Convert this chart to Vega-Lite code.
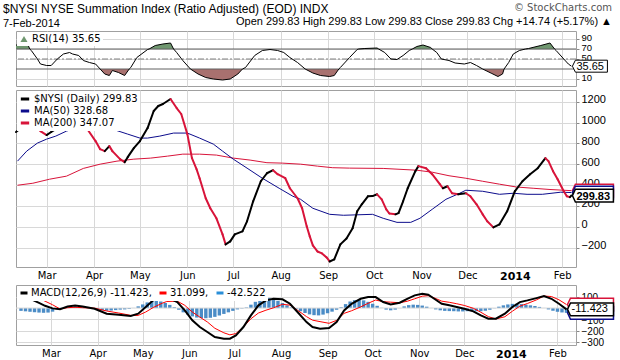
{
  "$schema": "https://vega.github.io/schema/vega-lite/v6.json",
  "background": "white",
  "padding": {"left": 3, "top": 2, "right": 0, "bottom": 0},
  "spacing": 2,
  "title": {
    "text": "$NYSI NYSE Summation Index (Ratio Adjusted) (EOD) INDX",
    "subtitle": "7-Feb-2014",
    "anchor": "start",
    "frame": "group",
    "font": "Liberation Sans",
    "fontSize": 12,
    "fontWeight": "normal",
    "color": "#000000",
    "subtitleFont": "Liberation Sans",
    "subtitleFontSize": 11,
    "subtitleColor": "#000000",
    "subtitlePadding": 2,
    "offset": -27,
    "dx": -13
  },
  "resolve": {"scale": {"color": "independent"}, "legend": {"color": "independent"}},
  "config": {
    "view": {"stroke": "#a0a0a0", "strokeWidth": 1},
    "axis": {"labelFont": "Liberation Sans", "labelFontSize": 11, "labelColor": "#000000", "gridColor": "#d8d8d8", "domain": false, "tickColor": "#888888", "tickSize": 3, "title": null, "labelOverlap": false, "labelSeparation": 0}
  },
  "datasets": {
    "price": [
      {"d":"2013-02-09","v":909},{"d":"2013-02-13","v":957},{"d":"2013-02-17","v":995},{"d":"2013-02-21","v":995},{"d":"2013-02-25","v":918},
      {"d":"2013-03-01","v":880},{"d":"2013-03-04","v":909},{"d":"2013-03-08","v":947},{"d":"2013-03-12","v":1005},{"d":"2013-03-16","v":1024},
      {"d":"2013-03-22","v":957},{"d":"2013-03-28","v":928},{"d":"2013-04-02","v":822},{"d":"2013-04-05","v":745},{"d":"2013-04-08","v":726},
      {"d":"2013-04-11","v":774},{"d":"2013-04-13","v":726},{"d":"2013-04-18","v":649},{"d":"2013-04-21","v":620},{"d":"2013-04-23","v":668},
      {"d":"2013-04-27","v":755},{"d":"2013-05-01","v":822},{"d":"2013-05-06","v":947},{"d":"2013-05-10","v":1111},{"d":"2013-05-13","v":1159},
      {"d":"2013-05-16","v":1178},{"d":"2013-05-21","v":1226},{"d":"2013-05-25","v":1139},{"d":"2013-05-28","v":1082},{"d":"2013-06-01","v":889},
      {"d":"2013-06-04","v":659},{"d":"2013-06-07","v":553},{"d":"2013-06-09","v":466},{"d":"2013-06-13","v":274},{"d":"2013-06-16","v":178},
      {"d":"2013-06-20","v":82},{"d":"2013-06-24","v":-72},{"d":"2013-06-26","v":-168},{"d":"2013-06-29","v":-139},{"d":"2013-07-02","v":-72},
      {"d":"2013-07-07","v":-43},{"d":"2013-07-10","v":53},{"d":"2013-07-14","v":245},{"d":"2013-07-19","v":437},{"d":"2013-07-23","v":514},
      {"d":"2013-07-27","v":543},{"d":"2013-07-30","v":505},{"d":"2013-08-04","v":466},{"d":"2013-08-07","v":370},{"d":"2013-08-12","v":274},
      {"d":"2013-08-15","v":178},{"d":"2013-08-18","v":5},{"d":"2013-08-20","v":-91},{"d":"2013-08-22","v":-178},{"d":"2013-08-25","v":-236},
      {"d":"2013-08-28","v":-255},{"d":"2013-08-31","v":-293},{"d":"2013-09-02","v":-332},{"d":"2013-09-05","v":-312},{"d":"2013-09-09","v":-168},
      {"d":"2013-09-13","v":-111},{"d":"2013-09-17","v":-14},{"d":"2013-09-20","v":149},{"d":"2013-09-23","v":216},{"d":"2013-09-27","v":293},
      {"d":"2013-09-30","v":295},{"d":"2013-10-03","v":312},{"d":"2013-10-06","v":264},{"d":"2013-10-09","v":168},{"d":"2013-10-11","v":128},
      {"d":"2013-10-15","v":120},{"d":"2013-10-17","v":132},{"d":"2013-10-20","v":245},{"d":"2013-10-23","v":370},{"d":"2013-10-28","v":534},
      {"d":"2013-10-30","v":582},{"d":"2013-11-04","v":562},{"d":"2013-11-08","v":505},{"d":"2013-11-13","v":409},{"d":"2013-11-15","v":370},
      {"d":"2013-11-18","v":389},{"d":"2013-11-21","v":322},{"d":"2013-11-25","v":312},{"d":"2013-11-30","v":322},{"d":"2013-12-03","v":293},
      {"d":"2013-12-07","v":216},{"d":"2013-12-11","v":120},{"d":"2013-12-14","v":53},{"d":"2013-12-18","v":-5},{"d":"2013-12-22","v":24},
      {"d":"2013-12-27","v":149},{"d":"2014-01-01","v":341},{"d":"2014-01-06","v":437},{"d":"2014-01-11","v":505},{"d":"2014-01-16","v":562},
      {"d":"2014-01-21","v":659},{"d":"2014-01-23","v":630},{"d":"2014-01-26","v":534},{"d":"2014-01-29","v":457},{"d":"2014-02-02","v":341},
      {"d":"2014-02-04","v":293},{"d":"2014-02-06","v":285.09},{"d":"2014-02-07","v":299.83}
    ],
    "ma50": [
      {"d":"2013-02-10","v":630},{"d":"2013-02-16","v":726},{"d":"2013-02-23","v":803},{"d":"2013-03-01","v":841},{"d":"2013-03-07","v":870},
      {"d":"2013-03-14","v":918},{"d":"2013-03-21","v":950},{"d":"2013-03-28","v":965},{"d":"2013-04-05","v":962},{"d":"2013-04-13","v":937},
      {"d":"2013-04-23","v":889},{"d":"2013-05-01","v":851},{"d":"2013-05-06","v":851},{"d":"2013-05-14","v":870},{"d":"2013-05-23","v":899},
      {"d":"2013-06-01","v":899},{"d":"2013-06-09","v":851},{"d":"2013-06-18","v":793},{"d":"2013-06-24","v":726},{"d":"2013-07-01","v":649},
      {"d":"2013-07-10","v":563},{"d":"2013-07-20","v":466},{"d":"2013-07-31","v":370},{"d":"2013-08-09","v":293},{"d":"2013-08-14","v":264},
      {"d":"2013-08-22","v":178},{"d":"2013-09-02","v":120},{"d":"2013-09-11","v":111},{"d":"2013-09-30","v":120},{"d":"2013-10-07","v":82},
      {"d":"2013-10-16","v":43},{"d":"2013-10-25","v":43},{"d":"2013-10-31","v":82},{"d":"2013-11-08","v":168},{"d":"2013-11-17","v":264},
      {"d":"2013-11-26","v":322},{"d":"2013-11-30","v":351},{"d":"2013-12-11","v":341},{"d":"2013-12-22","v":312},{"d":"2013-12-31","v":322},
      {"d":"2014-01-09","v":312},{"d":"2014-01-19","v":312},{"d":"2014-01-31","v":332},{"d":"2014-02-07","v":328.68}
    ],
    "ma200": [
      {"d":"2013-02-10","v":399},{"d":"2013-02-20","v":418},{"d":"2013-03-03","v":457},{"d":"2013-03-14","v":486},{"d":"2013-03-25","v":560},
      {"d":"2013-04-05","v":601},{"d":"2013-04-16","v":630},{"d":"2013-04-27","v":649},{"d":"2013-05-08","v":659},{"d":"2013-05-19","v":678},
      {"d":"2013-05-29","v":697},{"d":"2013-06-09","v":697},{"d":"2013-06-20","v":688},{"d":"2013-07-01","v":659},{"d":"2013-07-12","v":640},
      {"d":"2013-07-23","v":615},{"d":"2013-08-02","v":611},{"d":"2013-08-14","v":601},{"d":"2013-08-25","v":582},{"d":"2013-09-04","v":567},
      {"d":"2013-09-15","v":563},{"d":"2013-10-07","v":560},{"d":"2013-10-29","v":543},{"d":"2013-11-08","v":524},{"d":"2013-11-19","v":490},
      {"d":"2013-11-30","v":466},{"d":"2013-12-11","v":437},{"d":"2013-12-22","v":409},{"d":"2014-01-02","v":382},{"d":"2014-01-13","v":370},
      {"d":"2014-01-24","v":358},{"d":"2014-02-07","v":347.07}
    ],
    "rsi": [
      {"d":"2013-02-09","r":78,"hi":78},{"d":"2013-02-17","r":77,"hi":77},{"d":"2013-02-18","r":70,"hi":70},{"d":"2013-02-19","r":67},
      {"d":"2013-02-23","r":50},{"d":"2013-02-25","r":40},{"d":"2013-03-01","r":37},{"d":"2013-03-04","r":37},{"d":"2013-03-08","r":50},
      {"d":"2013-03-12","r":60},{"d":"2013-03-16","r":63},{"d":"2013-03-18","r":60},{"d":"2013-03-22","r":57},{"d":"2013-03-25","r":47},
      {"d":"2013-03-29","r":43},{"d":"2013-04-02","r":40},{"d":"2013-04-05","r":30,"lo":30},{"d":"2013-04-08","r":20,"lo":20},
      {"d":"2013-04-11","r":17,"lo":17},{"d":"2013-04-13","r":27,"lo":27},{"d":"2013-04-17","r":23,"lo":23},{"d":"2013-04-21","r":17,"lo":17},
      {"d":"2013-04-24","r":30,"lo":30},{"d":"2013-04-25","r":33},{"d":"2013-04-29","r":53},{"d":"2013-05-06","r":69},
      {"d":"2013-05-07","r":70,"hi":70},{"d":"2013-05-11","r":77,"hi":77},{"d":"2013-05-16","r":80,"hi":80},{"d":"2013-05-21","r":82,"hi":82},
      {"d":"2013-05-23","r":70,"hi":70},{"d":"2013-05-25","r":63},{"d":"2013-05-29","r":47},{"d":"2013-06-03","r":30,"lo":30},
      {"d":"2013-06-08","r":20,"lo":20},{"d":"2013-06-13","r":13,"lo":13},{"d":"2013-06-18","r":10,"lo":10},{"d":"2013-06-24","r":8,"lo":8},
      {"d":"2013-06-29","r":10,"lo":10},{"d":"2013-07-04","r":20,"lo":20},{"d":"2013-07-07","r":30,"lo":30},{"d":"2013-07-09","r":33},
      {"d":"2013-07-15","r":57},{"d":"2013-07-20","r":67},{"d":"2013-07-25","r":69},{"d":"2013-07-30","r":67},{"d":"2013-08-03","r":63},
      {"d":"2013-08-07","r":53},{"d":"2013-08-12","r":43},{"d":"2013-08-17","r":30,"lo":30},{"d":"2013-08-22","r":22,"lo":22},
      {"d":"2013-08-27","r":17,"lo":17},{"d":"2013-09-02","r":15,"lo":15},{"d":"2013-09-05","r":17,"lo":17},{"d":"2013-09-08","r":30,"lo":30},
      {"d":"2013-09-09","r":33},{"d":"2013-09-15","r":53},{"d":"2013-09-20","r":69},{"d":"2013-09-21","r":70,"hi":70},
      {"d":"2013-09-25","r":71,"hi":71},{"d":"2013-10-03","r":72,"hi":72},{"d":"2013-10-04","r":70,"hi":70},{"d":"2013-10-08","r":63},
      {"d":"2013-10-12","r":50},{"d":"2013-10-16","r":49},{"d":"2013-10-20","r":57},{"d":"2013-10-24","r":67},{"d":"2013-10-26","r":70,"hi":70},
      {"d":"2013-10-29","r":75,"hi":75},{"d":"2013-11-02","r":78,"hi":78},{"d":"2013-11-07","r":73,"hi":73},{"d":"2013-11-08","r":70,"hi":70},
      {"d":"2013-11-11","r":63},{"d":"2013-11-14","r":50},{"d":"2013-11-19","r":47},{"d":"2013-11-23","r":42},{"d":"2013-11-29","r":40},
      {"d":"2013-12-03","r":43},{"d":"2013-12-07","r":37},{"d":"2013-12-11","r":30,"lo":30},{"d":"2013-12-17","r":21,"lo":21},
      {"d":"2013-12-21","r":15,"lo":15},{"d":"2013-12-24","r":20,"lo":20},{"d":"2013-12-25","r":30,"lo":30},{"d":"2013-12-28","r":43},
      {"d":"2013-12-31","r":60},{"d":"2014-01-04","r":67},{"d":"2014-01-08","r":70,"hi":70},{"d":"2014-01-10","r":71,"hi":71},
      {"d":"2014-01-18","r":77,"hi":77},{"d":"2014-01-24","r":82,"hi":82},{"d":"2014-01-27","r":70,"hi":70},{"d":"2014-01-28","r":67},
      {"d":"2014-02-02","r":50},{"d":"2014-02-05","r":40},{"d":"2014-02-07","r":35.65}
    ],
    "macd": [
      {"d":"2013-02-09","m":95,"s":120},{"d":"2013-02-12","m":88,"s":117},{"d":"2013-02-17","m":70,"s":106},{"d":"2013-02-21","m":45,"s":85},
      {"d":"2013-02-25","m":20,"s":61},{"d":"2013-03-02","m":-3,"s":29},{"d":"2013-03-07","m":-10,"s":-8},{"d":"2013-03-12","m":13,"s":3},
      {"d":"2013-03-17","m":22,"s":7},{"d":"2013-03-22","m":13,"s":3},{"d":"2013-03-30","m":-6,"s":-1},{"d":"2013-04-07","m":-50,"s":-26},
      {"d":"2013-04-15","m":-59,"s":-44},{"d":"2013-04-23","m":-71,"s":-65},{"d":"2013-04-28","m":-50,"s":-65},{"d":"2013-05-03","m":9,"s":-35},
      {"d":"2013-05-08","m":68,"s":5},{"d":"2013-05-14","m":97,"s":43},{"d":"2013-05-17","m":98,"s":58},{"d":"2013-05-24","m":53,"s":61},
      {"d":"2013-05-29","m":-21,"s":24},{"d":"2013-06-03","m":-109,"s":-35},{"d":"2013-06-08","m":-168,"s":-80},{"d":"2013-06-13","m":-212,"s":-123},
      {"d":"2013-06-18","m":-257,"s":-179},{"d":"2013-06-24","m":-271,"s":-219},{"d":"2013-06-28","m":-271,"s":-237},{"d":"2013-07-02","m":-242,"s":-226},
      {"d":"2013-07-07","m":-168,"s":-167},{"d":"2013-07-12","m":-65,"s":-95},{"d":"2013-07-17","m":24,"s":-44},{"d":"2013-07-22","m":68,"s":-19},
      {"d":"2013-07-27","m":82,"s":2},{"d":"2013-08-02","m":77,"s":33},{"d":"2013-08-07","m":38,"s":26},{"d":"2013-08-12","m":-35,"s":-19},
      {"d":"2013-08-18","m":-124,"s":-76},{"d":"2013-08-22","m":-168,"s":-107},{"d":"2013-08-27","m":-183,"s":-120},{"d":"2013-09-02","m":-177,"s":-135},
      {"d":"2013-09-07","m":-124,"s":-109},{"d":"2013-09-12","m":-21,"s":-47},{"d":"2013-09-17","m":38,"s":-24},{"d":"2013-09-23","m":82,"s":10},
      {"d":"2013-09-28","m":97,"s":42},{"d":"2013-10-03","m":97,"s":71},{"d":"2013-10-08","m":53,"s":56},{"d":"2013-10-13","m":32,"s":52},
      {"d":"2013-10-19","m":47,"s":47},{"d":"2013-10-24","m":82,"s":60},{"d":"2013-10-29","m":112,"s":82},{"d":"2013-11-03","m":127,"s":105},
      {"d":"2013-11-07","m":118,"s":109},{"d":"2013-11-11","m":82,"s":90},{"d":"2013-11-16","m":38,"s":61},{"d":"2013-11-21","m":24,"s":51},
      {"d":"2013-11-26","m":9,"s":38},{"d":"2013-12-01","m":-6,"s":23},{"d":"2013-12-07","m":-29,"s":-2},{"d":"2013-12-12","m":-65,"s":-37},
      {"d":"2013-12-17","m":-94,"s":-76},{"d":"2013-12-22","m":-94,"s":-97},{"d":"2013-12-28","m":-50,"s":-77},{"d":"2014-01-02","m":9,"s":-28},
      {"d":"2014-01-07","m":53,"s":17},{"d":"2014-01-12","m":68,"s":40},{"d":"2014-01-18","m":88,"s":72},{"d":"2014-01-23","m":106,"s":106},
      {"d":"2014-01-28","m":82,"s":102},{"d":"2014-02-02","m":38,"s":73},{"d":"2014-02-07","m":-11.423,"s":31.099}
    ],
    "hist": [
      {"d":"2013-02-09","h":-25},{"d":"2013-02-12","h":-29},{"d":"2013-02-15","h":-33},{"d":"2013-02-18","h":-37},{"d":"2013-02-21","h":-40},
      {"d":"2013-02-24","h":-42},{"d":"2013-02-27","h":-40},{"d":"2013-03-02","h":-32},{"d":"2013-03-05","h":-12},{"d":"2013-03-08","h":3},
      {"d":"2013-03-11","h":9},{"d":"2013-03-14","h":13},{"d":"2013-03-17","h":15},{"d":"2013-03-20","h":13},{"d":"2013-03-23","h":9},
      {"d":"2013-03-26","h":4},{"d":"2013-03-29","h":-2},{"d":"2013-04-01","h":-12},{"d":"2013-04-04","h":-20},{"d":"2013-04-07","h":-24},
      {"d":"2013-04-10","h":-22},{"d":"2013-04-13","h":-18},{"d":"2013-04-16","h":-14},{"d":"2013-04-19","h":-12},{"d":"2013-04-22","h":-8},
      {"d":"2013-04-25","h":1},{"d":"2013-04-28","h":15},{"d":"2013-05-01","h":32},{"d":"2013-05-04","h":50},{"d":"2013-05-07","h":62},
      {"d":"2013-05-10","h":65},{"d":"2013-05-13","h":58},{"d":"2013-05-16","h":45},{"d":"2013-05-19","h":28},{"d":"2013-05-22","h":8},
      {"d":"2013-05-25","h":-15},{"d":"2013-05-28","h":-38},{"d":"2013-05-31","h":-58},{"d":"2013-06-03","h":-74},{"d":"2013-06-06","h":-84},
      {"d":"2013-06-09","h":-89},{"d":"2013-06-12","h":-90},{"d":"2013-06-15","h":-86},{"d":"2013-06-18","h":-78},{"d":"2013-06-21","h":-66},
      {"d":"2013-06-24","h":-52},{"d":"2013-06-27","h":-38},{"d":"2013-06-30","h":-25},{"d":"2013-07-03","h":-12},{"d":"2013-07-06","h":-4},
      {"d":"2013-07-09","h":5},{"d":"2013-07-12","h":30},{"d":"2013-07-15","h":55},{"d":"2013-07-18","h":75},{"d":"2013-07-21","h":86},
      {"d":"2013-07-24","h":88},{"d":"2013-07-27","h":80},{"d":"2013-07-30","h":64},{"d":"2013-08-02","h":44},{"d":"2013-08-05","h":24},
      {"d":"2013-08-08","h":6},{"d":"2013-08-11","h":-10},{"d":"2013-08-14","h":-28},{"d":"2013-08-17","h":-44},{"d":"2013-08-20","h":-56},
      {"d":"2013-08-23","h":-63},{"d":"2013-08-26","h":-65},{"d":"2013-08-29","h":-58},{"d":"2013-09-01","h":-46},{"d":"2013-09-04","h":-32},
      {"d":"2013-09-07","h":-15},{"d":"2013-09-10","h":8},{"d":"2013-09-13","h":35},{"d":"2013-09-16","h":58},{"d":"2013-09-19","h":70},
      {"d":"2013-09-22","h":74},{"d":"2013-09-25","h":68},{"d":"2013-09-28","h":55},{"d":"2013-10-01","h":38},{"d":"2013-10-04","h":20},
      {"d":"2013-10-07","h":2},{"d":"2013-10-10","h":-14},{"d":"2013-10-13","h":-20},{"d":"2013-10-16","h":-14},{"d":"2013-10-19","h":-1},
      {"d":"2013-10-22","h":15},{"d":"2013-10-25","h":26},{"d":"2013-10-28","h":30},{"d":"2013-10-31","h":28},{"d":"2013-11-03","h":22},
      {"d":"2013-11-06","h":12},{"d":"2013-11-09","h":1},{"d":"2013-11-12","h":-12},{"d":"2013-11-15","h":-20},{"d":"2013-11-18","h":-25},
      {"d":"2013-11-21","h":-27},{"d":"2013-11-24","h":-28},{"d":"2013-11-27","h":-30},{"d":"2013-11-30","h":-30},{"d":"2013-12-03","h":-28},
      {"d":"2013-12-06","h":-27},{"d":"2013-12-09","h":-28},{"d":"2013-12-12","h":-28},{"d":"2013-12-15","h":-24},{"d":"2013-12-18","h":-15},
      {"d":"2013-12-21","h":-2},{"d":"2013-12-24","h":12},{"d":"2013-12-27","h":24},{"d":"2013-12-30","h":32},{"d":"2014-01-02","h":37},
      {"d":"2014-01-05","h":38},{"d":"2014-01-08","h":35},{"d":"2014-01-11","h":30},{"d":"2014-01-14","h":24},{"d":"2014-01-17","h":18},
      {"d":"2014-01-20","h":10},{"d":"2014-01-23","h":1},{"d":"2014-01-26","h":-12},{"d":"2014-01-29","h":-24},{"d":"2014-02-01","h":-33},
      {"d":"2014-02-04","h":-39},{"d":"2014-02-07","h":-42.522}
    ],
    "mainEnd": [
      {"d":"2014-02-07","v":347.07,"k":"MA(200)","t":"347.07"},
      {"d":"2014-02-07","v":328.68,"k":"MA(50)","t":"328.68"},
      {"d":"2014-02-07","v":299.83,"k":"$NYSI","t":"299.83"}
    ],
    "macdEnd": [
      {"d":"2014-02-07","v":31.099,"k":"Signal","t":"31.099"},
      {"d":"2014-02-07","v":-42.522,"k":"Hist","t":"-42.522"},
      {"d":"2014-02-07","v":-11.423,"k":"MACD","t":"-11.423"}
    ]
  },
  "vconcat": [
    {
      "width": 560,
      "height": 55,
      "title": {
        "text": "© StockCharts.com",
        "subtitle": "Open 299.83  High 299.83  Low 299.83  Close 299.83  Chg +14.74 (+5.17%) ▲",
        "anchor": "end",
        "frame": "group",
        "font": "DejaVu Sans",
        "fontSize": 10,
        "fontWeight": "normal",
        "color": "#555555",
        "subtitleFont": "Liberation Sans",
        "subtitleFontSize": 11,
        "subtitleColor": "#000000",
        "subtitlePadding": 3,
        "offset": 4,
        "dx": 36
      },
      "layer": [
        {
          "data": {"name": "rsi"},
          "mark": {"type": "area", "color": "#a8716f", "invalid": "break-paths-filter-domains"},
          "encoding": {
            "x": {"field": "d", "type": "temporal",
              "scale": {"domain": [{"year": 2013, "month": 2, "date": 9}, {"year": 2014, "month": 2, "date": 10}]},
              "axis": {"labels": false, "ticks": false, "grid": true, "domain": false, "tickCount": {"interval": "month", "step": 1}}},
            "y": {"field": "lo", "type": "quantitative",
              "scale": {"domain": [-4, 106], "nice": false, "zero": false},
              "axis": {"orient": "right", "values": [10, 50, 70, 90], "tickCount": 30, "grid": true, "labelPadding": 2, "labelFontSize": 9.5, "labelOffset": -2, "labelOverlap": false}},
            "y2": {"datum": 30}
          }
        },
        {
          "data": {"name": "rsi"},
          "mark": {"type": "area", "invalid": "break-paths-filter-domains"},
          "encoding": {
            "x": {"field": "d", "type": "temporal"},
            "y": {"field": "hi", "type": "quantitative"},
            "y2": {"datum": 70},
            "color": {"datum": "RSI(14) 35.65", "scale": {"range": ["#6f976f"]},
              "legend": {"orient": "top-left", "title": null, "offset": 1, "padding": 2, "fillColor": "white", "symbolType": "triangle-up", "symbolSize": 50, "symbolStrokeWidth": 0, "labelFont": "DejaVu Sans", "labelFontSize": 10, "labelColor": "#000000", "labelOffset": 3}}
          }
        },
        {
          "data": {"values": [{"lv": 70}, {"lv": 30}]},
          "mark": {"type": "rule", "color": "#606060", "strokeWidth": 1},
          "encoding": {"y": {"field": "lv", "type": "quantitative"}}
        },
        {
          "data": {"values": [{"lv": 50}]},
          "mark": {"type": "rule", "color": "#808080", "strokeWidth": 1, "strokeDash": [6, 2, 2, 2]},
          "encoding": {"y": {"field": "lv", "type": "quantitative"}}
        },
        {
          "data": {"name": "rsi"},
          "mark": {"type": "line", "color": "#000000", "strokeWidth": 1},
          "encoding": {
            "x": {"field": "d", "type": "temporal"},
            "y": {"field": "r", "type": "quantitative"}
          }
        },
        {
          "data": {"values": [{"d": "2014-02-07", "v": 35.65, "t": "35.65"}]},
          "mark": {"type": "point", "shape": "M0.05,0 L0.2,-0.3 L1.8,-0.3 L1.8,0.3 L0.2,0.3 Z", "size": 1600, "filled": true, "fill": "white", "stroke": "#000000", "strokeWidth": 1, "opacity": 1},
          "encoding": {"x": {"field": "d", "type": "temporal"}, "y": {"field": "v", "type": "quantitative"}}
        },
        {
          "data": {"values": [{"d": "2014-02-07", "v": 35.65, "t": "35.65"}]},
          "mark": {"type": "text", "align": "left", "baseline": "middle", "dx": 5, "dy": 1, "font": "Liberation Sans", "fontSize": 11, "color": "#000000"},
          "encoding": {"x": {"field": "d", "type": "temporal"}, "y": {"field": "v", "type": "quantitative"}, "text": {"field": "t"}}
        }
      ]
    },
    {
      "width": 560,
      "height": 177,
      "layer": [
        {
          "data": {"name": "ma200"},
          "mark": {"type": "line", "strokeWidth": 1},
          "encoding": {
            "x": {"field": "d", "type": "temporal",
              "scale": {"domain": [{"year": 2013, "month": 2, "date": 9}, {"year": 2014, "month": 2, "date": 10}]},
              "axis": {"orient": "bottom", "tickCount": {"interval": "month", "step": 1}, "grid": true, "ticks": false, "domain": false, "labelPadding": 3,
                "labelFont": "DejaVu Sans", "labelFlush": false,
                "labelExpr": "month(datum.value) == 0 ? timeFormat(datum.value, '%Y') : timeFormat(datum.value, '%b')",
                "labelFontSize": {"condition": {"test": "month(datum.value) == 0", "value": 11}, "value": 10},
                "labelFontWeight": {"condition": {"test": "month(datum.value) == 0", "value": "bold"}, "value": "normal"}}},
            "y": {"field": "v", "type": "quantitative",
              "scale": {"domain": [-385, 1312], "nice": false, "zero": false},
              "axis": {"orient": "right", "values": [-200, 0, 200, 400, 600, 800, 1000, 1200], "tickCount": 30, "format": "d", "grid": true, "labelPadding": 2, "labelOffset": -2, "labelOverlap": false}},
            "color": {"datum": "MA(200) 347.07",
              "scale": {"domain": ["$NYSI (Daily) 299.83", "MA(50) 328.68", "MA(200) 347.07"], "range": ["#000000", "#0c0c8c", "#d8143a"]},
              "legend": {"orient": "top-left", "title": null, "offset": 1, "padding": 2, "fillColor": "white", "symbolType": "stroke", "symbolStrokeWidth": 3, "symbolSize": 70, "labelFont": "DejaVu Sans", "labelFontSize": 10, "labelOffset": 3, "rowPadding": 0,
                "encoding": {"labels": {"update": {"fill": {"signal": "datum.value === 'MA(50) 328.68' ? '#0c0c8c' : (datum.value === 'MA(200) 347.07' ? '#d8143a' : '#000000')"}}}}}}
          }
        },
        {
          "data": {"name": "ma50"},
          "mark": {"type": "line", "strokeWidth": 1},
          "encoding": {
            "x": {"field": "d", "type": "temporal"},
            "y": {"field": "v", "type": "quantitative"},
            "color": {"datum": "MA(50) 328.68"}
          }
        },
        {
          "data": {"name": "price"},
          "transform": [
            {"window": [{"op": "lead", "field": "v", "as": "v2"}, {"op": "lead", "field": "d", "as": "d2"}], "sort": [{"field": "d", "order": "ascending"}]},
            {"filter": "datum.v2 != null"}
          ],
          "mark": {"type": "rule", "strokeWidth": 2, "strokeCap": "round"},
          "encoding": {
            "x": {"field": "d", "type": "temporal"},
            "y": {"field": "v", "type": "quantitative"},
            "x2": {"field": "d2"},
            "y2": {"field": "v2"},
            "color": {"condition": {"test": "datum.v2 >= datum.v", "value": "#000000"}, "value": "#d8143a"}
          }
        },
        {
          "data": {"name": "mainEnd"},
          "mark": {"type": "point", "shape": "M0.05,0 L0.2,-0.32 L2.1,-0.32 L2.1,0.32 L0.2,0.32 Z", "size": 1600, "filled": true, "fill": "white", "strokeWidth": 1.5, "opacity": 1},
          "encoding": {
            "x": {"field": "d", "type": "temporal"},
            "y": {"field": "v", "type": "quantitative"},
            "stroke": {"field": "k", "type": "nominal", "scale": {"domain": ["MA(200)", "MA(50)", "$NYSI"], "range": ["#d8143a", "#0c0c8c", "#000000"]}, "legend": null}
          }
        },
        {
          "data": {"name": "mainEnd"},
          "transform": [{"filter": "datum.k === '$NYSI'"}],
          "mark": {"type": "text", "align": "left", "baseline": "middle", "dx": 5, "dy": 1, "font": "Liberation Sans", "fontSize": 11, "fontWeight": "bold", "color": "#000000"},
          "encoding": {"x": {"field": "d", "type": "temporal"}, "y": {"field": "v", "type": "quantitative"}, "text": {"field": "t"}}
        }
      ]
    },
    {
      "width": 560,
      "height": 60,
      "layer": [
        {
          "data": {"name": "hist"},
          "mark": {"type": "bar", "width": 3.4, "color": "#4b8cc6"},
          "encoding": {
            "x": {"field": "d", "type": "temporal",
              "scale": {"domain": [{"year": 2013, "month": 2, "date": 9}, {"year": 2014, "month": 2, "date": 10}]},
              "axis": {"orient": "bottom", "tickCount": {"interval": "month", "step": 1}, "grid": true, "ticks": false, "domain": false, "labelPadding": 3,
                "labelFont": "DejaVu Sans", "labelFlush": false,
                "labelExpr": "month(datum.value) == 0 ? timeFormat(datum.value, '%Y') : timeFormat(datum.value, '%b')",
                "labelFontSize": {"condition": {"test": "month(datum.value) == 0", "value": 11}, "value": 10},
                "labelFontWeight": {"condition": {"test": "month(datum.value) == 0", "value": "bold"}, "value": "normal"}}},
            "y": {"field": "h", "type": "quantitative",
              "scale": {"domain": [-327, 204], "nice": false, "zero": false},
              "axis": {"orient": "right", "values": [-300, -200, -100, 100], "tickCount": 30, "grid": true, "labelPadding": 2, "labelFontSize": 10, "labelOffset": 1, "labelOverlap": false}}
          }
        },
        {
          "data": {"values": [{"z": 0}]},
          "mark": {"type": "rule", "color": "#d8d8d8", "strokeWidth": 1},
          "encoding": {"y": {"field": "z", "type": "quantitative"}}
        },
        {
          "data": {"name": "macd"},
          "mark": {"type": "line", "color": "#ff0000", "strokeWidth": 1},
          "encoding": {
            "x": {"field": "d", "type": "temporal"},
            "y": {"field": "s", "type": "quantitative"}
          }
        },
        {
          "data": {"name": "macd"},
          "mark": {"type": "line", "strokeWidth": 2},
          "encoding": {
            "x": {"field": "d", "type": "temporal"},
            "y": {"field": "m", "type": "quantitative"},
            "color": {"datum": "MACD(12,26,9) -11.423,",
              "scale": {"domain": ["MACD(12,26,9) -11.423,", "31.099,", "-42.522"], "range": ["#000000", "#ff0000", "#2a8fd8"]},
              "legend": {"orient": "top-left", "title": null, "direction": "horizontal", "columns": 3, "columnPadding": 1, "offset": 1, "padding": 2, "fillColor": "white", "symbolType": "stroke", "symbolStrokeWidth": 3, "symbolSize": 49, "labelFont": "DejaVu Sans", "labelFontSize": 10, "labelOffset": 2,
                "encoding": {
                  "symbols": {"update": {"opacity": {"signal": "datum.value === 'MACD(12,26,9) -11.423,' ? 1 : 0"}}},
                  "labels": {"update": {"fill": {"signal": "datum.value === '31.099,' ? '#ff0000' : (datum.value === '-42.522' ? '#2a8fd8' : '#000000')"}}}}}}
          }
        },
        {
          "data": {"name": "macdEnd"},
          "mark": {"type": "point", "shape": "M0.05,0 L0.2,-0.32 L2.35,-0.32 L2.35,0.32 L0.2,0.32 Z", "size": 1600, "filled": true, "fill": "white", "strokeWidth": 1.5, "opacity": 1},
          "encoding": {
            "x": {"field": "d", "type": "temporal"},
            "y": {"field": "v", "type": "quantitative"},
            "stroke": {"field": "k", "type": "nominal", "scale": {"domain": ["Signal", "Hist", "MACD"], "range": ["#ff0000", "#2a6fb0", "#000000"]}, "legend": null}
          }
        },
        {
          "data": {"name": "macdEnd"},
          "transform": [{"filter": "datum.k === 'MACD'"}],
          "mark": {"type": "text", "align": "left", "baseline": "middle", "dx": 5, "font": "Liberation Sans", "fontSize": 11, "color": "#000000"},
          "encoding": {"x": {"field": "d", "type": "temporal"}, "y": {"field": "v", "type": "quantitative"}, "text": {"field": "t"}}
        }
      ]
    }
  ]
}
